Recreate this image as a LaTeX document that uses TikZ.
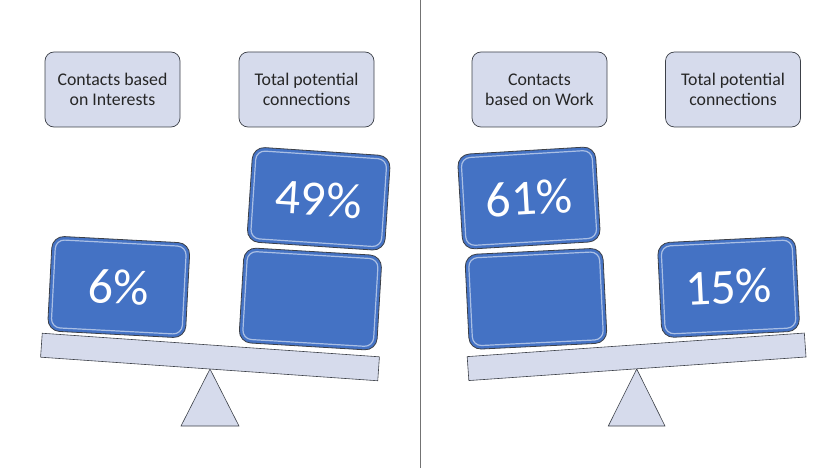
\documentclass[tikz,border=0pt]{standalone}
\usepackage{fontspec}
\setmainfont{Carlito}
\definecolor{boxblue}{RGB}{68,114,196}
\definecolor{lightfill}{RGB}{214,219,236}
\definecolor{edgegray}{RGB}{60,64,72}
\definecolor{labeltext}{RGB}{38,38,38}
\begin{document}
\begin{tikzpicture}[x=1pt,y=-1pt,
  labelbox/.style={rectangle,rounded corners=9pt,draw=edgegray,line width=0.7pt,fill=lightfill,
    minimum width=135pt,minimum height=75pt,align=center,text=labeltext,
    font=\fontsize{17.8}{20}\selectfont},
  weight/.style={rectangle,rounded corners=12pt,draw=edgegray,line width=0.8pt,fill=boxblue,
    minimum width=138pt,minimum height=95pt,text=white,font=\fontsize{50}{56}\selectfont},
  shine/.style={rectangle,rounded corners=9pt,draw=white,draw opacity=0.55,line width=1.2pt,
    minimum width=131pt,minimum height=88pt},
  beam/.style={rectangle,draw=edgegray,line width=0.6pt,fill=lightfill,
    minimum width=338pt,minimum height=24pt},
  fulcrum/.style={draw=edgegray,line width=0.6pt,fill=lightfill},
  divider/.style={draw=black!55,line width=0.7pt}]
\useasboundingbox (0,0) rectangle (836,468);

% divider
\coordinate (dtop) at (420,0);
\coordinate (dbot) at (420,468);
\draw[divider] (dtop) -- (dbot);

% labels
\node[labelbox] (l1) at (112.5,89.5) {Contacts based\\on Interests};
\node[labelbox] (l2) at (306.5,89.5) {Total potential\\connections};
\node[labelbox] (r1) at (539.5,89.5) {Contacts\\based on Work};
\node[labelbox] (r2) at (733,89.5) {Total potential\\connections};

% left scale
\draw[fulcrum] (210,369) -- (181,426) -- (239,426) -- cycle;
\node[beam,rotate=-4] (lbeam) at (210,357) {};
\node[weight,rotate=-3] (w6) at (118.8,287) {6\%};
\node[shine,rotate=-3] (w6s) at (118.8,287) {};
\node[weight,rotate=-3.4] (wlb) at (310.4,299) {};
\node[shine,rotate=-3.4] (wlbs) at (310.4,299) {};
\node[weight,rotate=-3.8] (w49) at (318.7,198.8) {49\%};
\node[shine,rotate=-3.8] (w49s) at (318.7,198.8) {};

% right scale
\draw[fulcrum] (636.7,369) -- (608.3,426) -- (665,426) -- cycle;
\node[beam,rotate=4] (rbeam) at (636.6,356.8) {};
\node[weight,rotate=2.8] (w15) at (728.6,287) {15\%};
\node[shine,rotate=2.8] (w15s) at (728.6,287) {};
\node[weight,rotate=2.8] (wrb) at (536,298.8) {};
\node[shine,rotate=2.8] (wrbs) at (536,298.8) {};
\node[weight,rotate=3.4] (w61) at (529,198) {61\%};
\node[shine,rotate=3.4] (w61s) at (529,198) {};
\end{tikzpicture}
\end{document}
